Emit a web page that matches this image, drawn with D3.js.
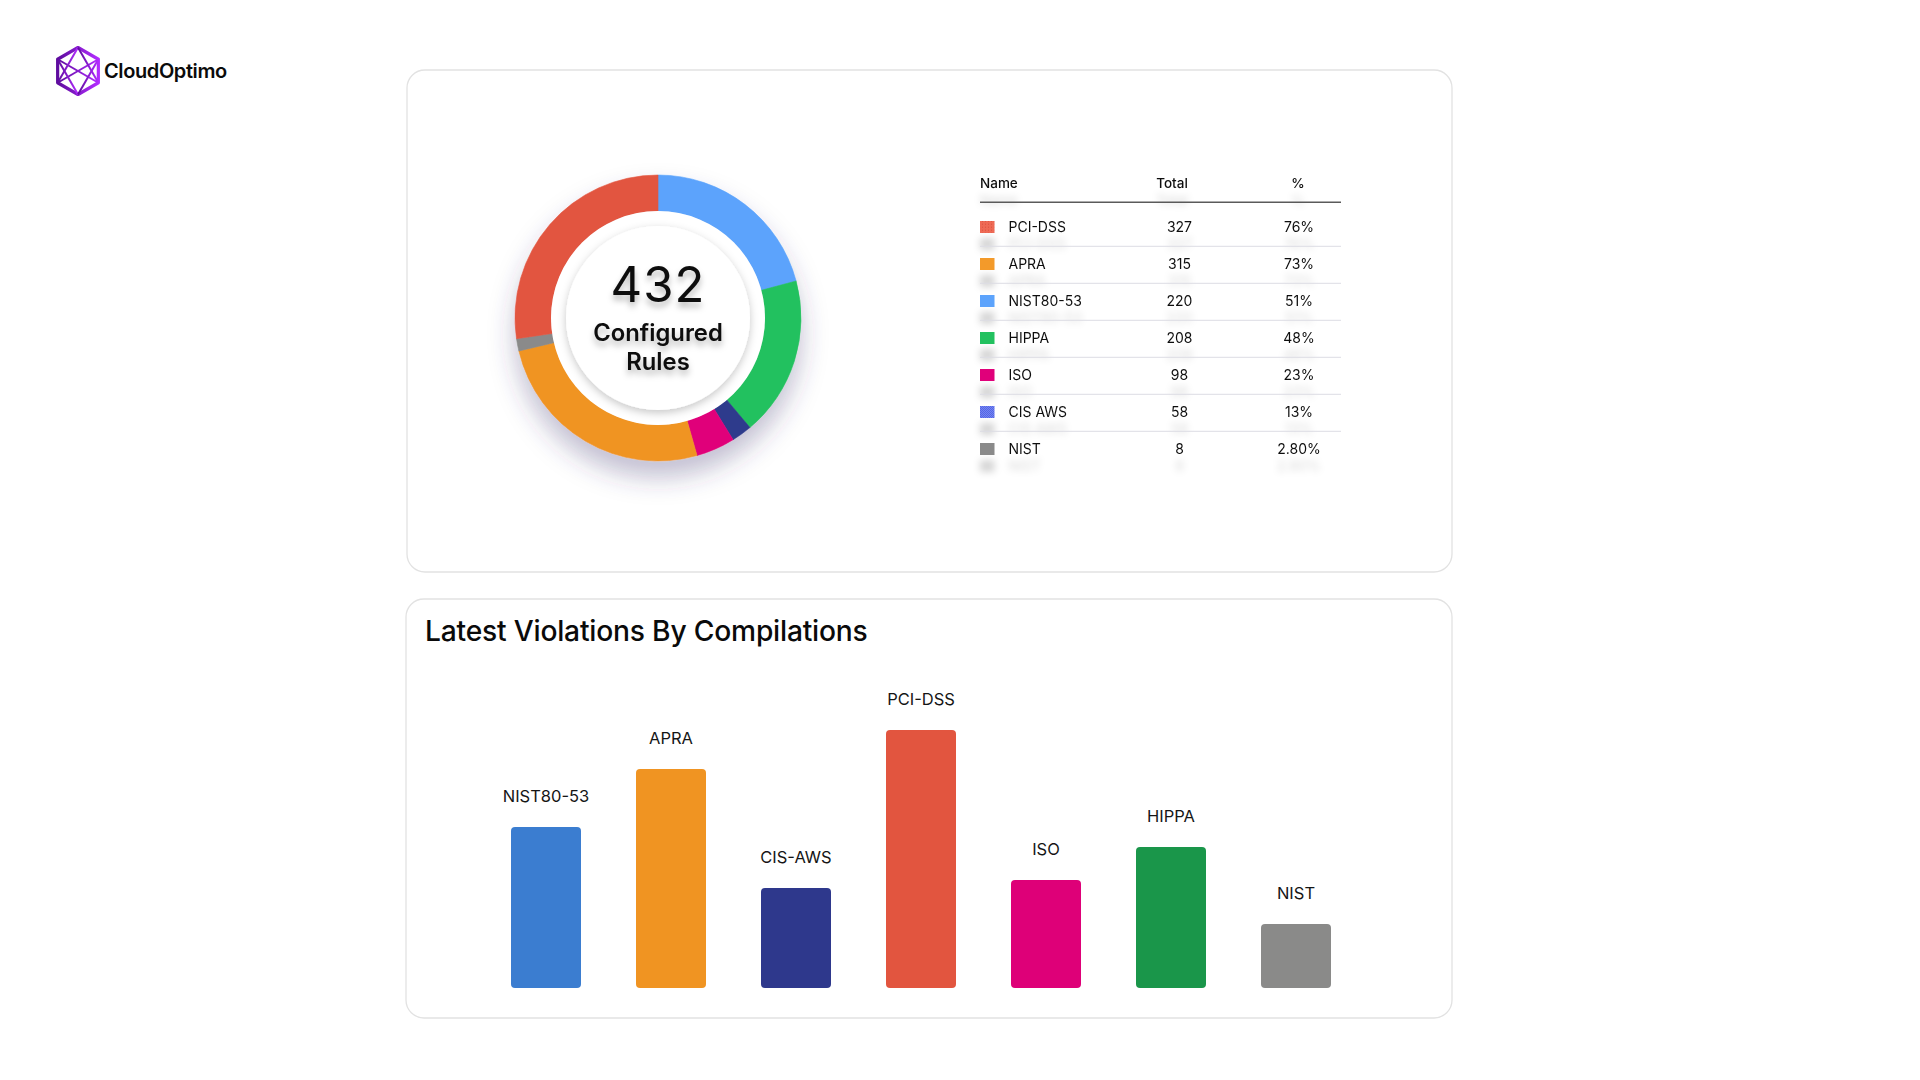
<!DOCTYPE html>
<html>
<head>
<meta charset="utf-8">
<script src="https://cdn.jsdelivr.net/npm/d3@7"></script>
<style>
  html, body { margin: 0; padding: 0; background: #ffffff; }
  svg { display: block; font-family: Inter, "Noto Sans", sans-serif; }
</style>
</head>
<body>
<svg id="chart" width="1920" height="1080"></svg>
<script>
// ---------- DATA ----------
const donutNames  = ["NIST80-53", "HIPPA", "CIS AWS", "ISO", "APRA", "NIST", "PCI-DSS"];
const donutValues = [90, 78, 10, 19, 111, 6, 118];
const donutColors = ["#5BA3FC", "#22C15E", "#2E3A8C", "#E0007A", "#F09422", "#8A8A8A", "#E2553F"];
const donutTotal  = "432";
const donutLabel  = ["Configured", "Rules"];

const tableHeaders  = ["Name", "Total", "%"];
const tableNames    = ["PCI-DSS", "APRA", "NIST80-53", "HIPPA", "ISO", "CIS AWS", "NIST"];
const tableTotals   = [327, 315, 220, 208, 98, 58, 8];
const tablePercents = ["76%", "73%", "51%", "48%", "23%", "13%", "2.80%"];
const tableColors   = ["#EE6A55", "#F39A2C", "#5BA3FC", "#22C15E", "#E0007A", "#4455DD", "#8A8A8A"];

const barTitle  = "Latest Violations By Compilations";
const barNames  = ["NIST80-53", "APRA", "CIS-AWS", "PCI-DSS", "ISO", "HIPPA", "NIST"];
const barValues = [161, 219, 100, 258, 108, 141, 64];
const barColors = ["#3B7DD0", "#F09422", "#2E388C", "#E2553F", "#DE0078", "#1A964A", "#8A8A89"];

const brandName = "CloudOptimo";

// ---------- SETUP ----------
const svg = d3.select("#chart");
const defs = svg.append("defs");

function shadow(id, dy, sd, color, op) {
  const f = defs.append("filter").attr("id", id)
    .attr("x", "-50%").attr("y", "-50%").attr("width", "200%").attr("height", "220%");
  f.append("feDropShadow").attr("dx", 0).attr("dy", dy).attr("stdDeviation", sd)
    .attr("flood-color", color).attr("flood-opacity", op);
}
shadow("donutShadow", 16, 13, "#3a3370", 0.32);
shadow("diskShadow", 3, 4, "#000", 0.22);
shadow("textShadow", 5, 3, "#000", 0.28);
shadow("ghost", 17, 3.5, "#000", 0.16);

// patterns for swatches
const pDots = defs.append("pattern").attr("id", "dots").attr("width", 3).attr("height", 3)
  .attr("patternUnits", "userSpaceOnUse");
pDots.append("rect").attr("width", 3).attr("height", 3).attr("fill", "#EE6A55");
pDots.append("rect").attr("x", 1).attr("y", 1).attr("width", 1).attr("height", 1).attr("fill", "#D9503E");
const pCheck = defs.append("pattern").attr("id", "check").attr("width", 2).attr("height", 2)
  .attr("patternUnits", "userSpaceOnUse");
pCheck.append("rect").attr("width", 2).attr("height", 2).attr("fill", "#3D4FD6");
pCheck.append("rect").attr("width", 1).attr("height", 1).attr("fill", "#8A9BFF");
pCheck.append("rect").attr("x", 1).attr("y", 1).attr("width", 1).attr("height", 1).attr("fill", "#8A9BFF");

const grad = defs.append("linearGradient").attr("id", "logoGrad")
  .attr("x1", "0%").attr("y1", "0%").attr("x2", "100%").attr("y2", "0%");
grad.append("stop").attr("offset", "0%").attr("stop-color", "#5E0C9E");
grad.append("stop").attr("offset", "100%").attr("stop-color", "#B22CFF");

// ---------- LOGO ----------
const logo = svg.append("g").attr("transform", "translate(78,71)");
const R = 23.5;
const hex = d3.range(6).map(i => {
  const a = -Math.PI / 2 + i * Math.PI / 3;
  return [R * Math.cos(a), R * Math.sin(a)];
});
const [T, UR, LR, B, LL, UL] = hex;
logo.append("path").attr("d", d3.line()(hex) + "Z")
  .attr("fill", "none").attr("stroke", "url(#logoGrad)").attr("stroke-width", 3.2).attr("stroke-linejoin", "round");
const inner = [[T, B], [UL, UR], [UL, LR], [UR, LL], [UL, B], [UR, B], [LL, T], [LR, T]];
logo.selectAll("line.in").data(inner).join("line")
  .attr("x1", d => d[0][0]).attr("y1", d => d[0][1])
  .attr("x2", d => d[1][0]).attr("y2", d => d[1][1])
  .attr("stroke", "url(#logoGrad)").attr("stroke-width", 2);
svg.append("text").attr("x", 104).attr("y", 77.5)
  .attr("font-size", 20).attr("font-weight", 600).attr("fill", "#0b0b0b")
  .attr("letter-spacing", -0.4).text(brandName);

// ---------- CARDS ----------
svg.append("rect").attr("x", 407).attr("y", 70).attr("width", 1045).attr("height", 502)
  .attr("rx", 18).attr("fill", "#fff").attr("stroke", "#e2e2e2").attr("stroke-width", 1.3);
svg.append("rect").attr("x", 406).attr("y", 599).attr("width", 1046).attr("height", 419)
  .attr("rx", 18).attr("fill", "#fff").attr("stroke", "#e2e2e2").attr("stroke-width", 1.3);

// ---------- DONUT ----------
const cx = 658, cy = 318;
const pie = d3.pie().sort(null).value(d => d)(donutValues);
const arc = d3.arc().innerRadius(107).outerRadius(143);
const dg = svg.append("g").attr("transform", `translate(${cx},${cy})`);
dg.append("g").attr("filter", "url(#donutShadow)")
  .selectAll("path").data(pie).join("path")
  .attr("d", arc).attr("fill", (d, i) => donutColors[i])
  .attr("stroke", (d, i) => donutColors[i]).attr("stroke-width", 0.6);
dg.append("circle").attr("r", 107).attr("fill", "#fff");
dg.append("circle").attr("r", 92).attr("fill", "#fff").attr("filter", "url(#diskShadow)");
const tg = dg.append("g").attr("filter", "url(#textShadow)").attr("text-anchor", "middle").attr("fill", "#0a0a0a");
tg.append("text").attr("y", -16).attr("font-size", 49).attr("font-weight", 400)
  .attr("letter-spacing", 1).text(donutTotal);
tg.selectAll("text.l").data(donutLabel).join("text").attr("class", "l")
  .attr("y", (d, i) => 22.5 + i * 29).attr("font-size", 23.8).attr("font-weight", 600).text(d => d);

// ---------- TABLE ----------
const tx = 980, headerY = 188.3, row0 = 231.7, rowH = 37;
const colTotal = 1179.5, colPct = 1299;
const tbl = svg.append("g");
const ghost = tbl.append("g").attr("filter", "url(#ghost)").attr("fill", "#111").attr("font-size", 13.5);
ghost.append("text").attr("x", tx).attr("y", headerY).attr("font-weight", 500).text(tableHeaders[0]);
ghost.append("text").attr("x", 1172).attr("y", headerY).attr("text-anchor", "middle").attr("font-weight", 500).text(tableHeaders[1]);
ghost.append("text").attr("x", 1298).attr("y", headerY).attr("text-anchor", "middle").attr("font-weight", 500).text(tableHeaders[2]);
tbl.append("line").attr("x1", 980).attr("x2", 1341).attr("y1", 202.3).attr("y2", 202.3)
  .attr("stroke", "#5a5a5a").attr("stroke-width", 1.4);

const yRow = d3.scaleLinear().domain([0, 1]).range([row0, row0 + rowH]);
const rows = ghost.selectAll("g.row").data(tableNames).join("g").attr("class", "row")
  .attr("transform", (d, i) => `translate(0,${yRow(i)})`);
rows.append("rect").attr("x", tx).attr("y", -10.7).attr("width", 14.5).attr("height", 12)
  .attr("fill", (d, i) => i === 0 ? "url(#dots)" : i === 5 ? "url(#check)" : tableColors[i]);
rows.append("text").attr("x", 1008.5).attr("font-size", 14).text(d => d);
rows.append("text").attr("x", colTotal).attr("text-anchor", "middle").attr("font-size", 14)
  .text((d, i) => tableTotals[i]);
rows.append("text").attr("x", colPct).attr("text-anchor", "middle").attr("font-size", 14)
  .text((d, i) => tablePercents[i]);
tbl.selectAll("line.sep").data(tableNames.slice(0, -1)).join("line").attr("class", "sep")
  .attr("x1", 980).attr("x2", 1341)
  .attr("y1", (d, i) => yRow(i) + 14.6).attr("y2", (d, i) => yRow(i) + 14.6)
  .attr("stroke", "#dcdce4").attr("stroke-width", 1);

// ---------- BAR CHART ----------
svg.append("text").attr("x", 425).attr("y", 641).attr("font-size", 28.2).attr("font-weight", 500)
  .attr("fill", "#0a0a0a").attr("letter-spacing", -0.2).text(barTitle);

const x = d3.scaleBand().domain(barNames).range([511, 1331]).paddingInner(0.44).paddingOuter(0);
const y = d3.scaleLinear().domain([0, d3.max(barValues)]).range([988, 730]);
const bars = svg.append("g");
bars.selectAll("path.bar").data(barNames).join("path").attr("class", "bar")
  .attr("d", (d, i) => {
    const x0 = x(d), w = x.bandwidth(), y0 = y(barValues[i]), y1 = y(0), r = 4;
    return `M${x0},${y1 - r}V${y0 + r}Q${x0},${y0} ${x0 + r},${y0}H${x0 + w - r}Q${x0 + w},${y0} ${x0 + w},${y0 + r}V${y1 - r}Q${x0 + w},${y1} ${x0 + w - r},${y1}H${x0 + r}Q${x0},${y1} ${x0},${y1 - r}Z`;
  })
  .attr("fill", (d, i) => barColors[i]);
bars.selectAll("text.lbl").data(barNames).join("text").attr("class", "lbl")
  .attr("x", d => x(d) + x.bandwidth() / 2)
  .attr("y", (d, i) => y(barValues[i]) - 25)
  .attr("text-anchor", "middle").attr("font-size", 16.5).attr("fill", "#151515")
  .text(d => d);
</script>
</body>
</html>
